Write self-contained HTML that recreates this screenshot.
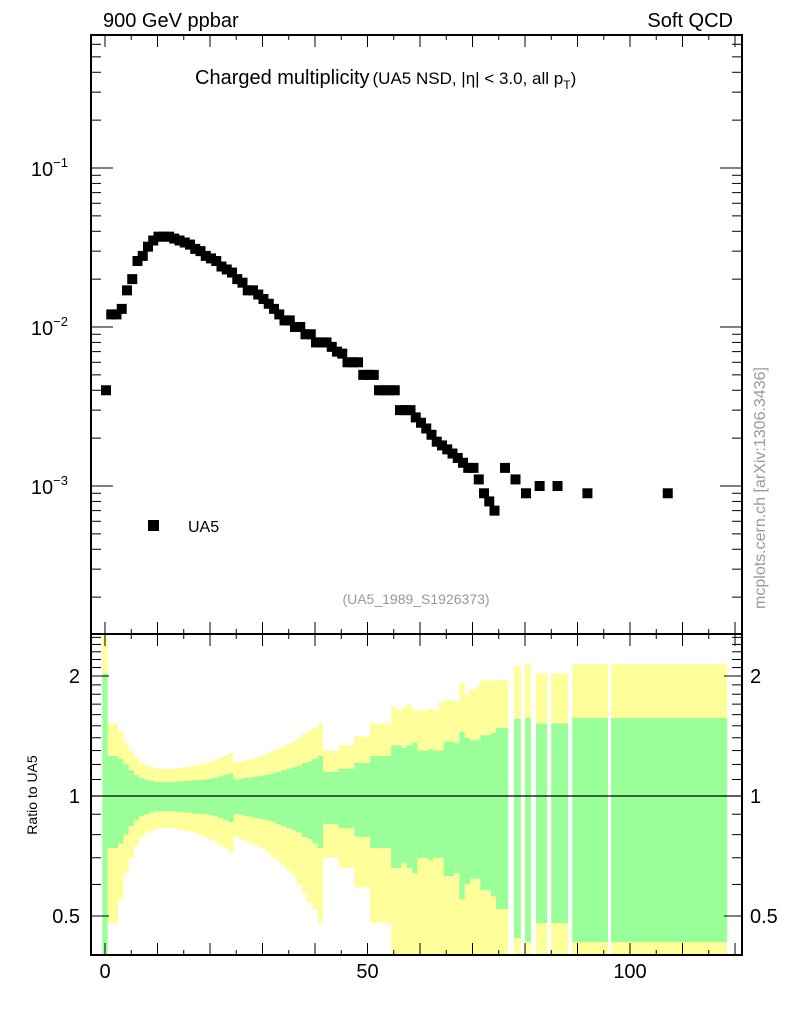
<!DOCTYPE html>
<html><head><meta charset="utf-8"><style>
html,body{margin:0;padding:0;background:#fff;}
svg{display:block;font-family:"Liberation Sans",sans-serif;}
</style></head><body>
<svg id="chart" width="786" height="1024" viewBox="0 0 786 1024" xmlns="http://www.w3.org/2000/svg">
<g id="ratio-bands"></g>
<g id="axes"></g>
<g id="points"></g>
<text x="103" y="27" font-size="20">900 GeV ppbar</text>
<text x="733" y="27" font-size="20" text-anchor="end">Soft QCD</text>
<text x="195" y="84" font-size="20">Charged multiplicity<tspan font-size="17" dx="3">(UA5 NSD, |η| &lt; 3.0, all p</tspan><tspan font-size="12" dy="5">T</tspan><tspan font-size="17" dy="-5">)</tspan></text>
<rect x="148" y="520" width="11" height="11" fill="#000"/>
<text x="188" y="532" font-size="16">UA5</text>
<text x="416" y="604" font-size="14" fill="#999" text-anchor="middle">(UA5_1989_S1926373)</text>
<text transform="translate(37,795) rotate(-90)" font-size="14" text-anchor="middle">Ratio to UA5</text>
<text transform="translate(765,488) rotate(-90)" font-size="16" fill="#999" text-anchor="middle">mcplots.cern.ch [arXiv:1306.3436]</text>
</svg>
<script>
const dataX = [0,1,2,3,4,5,6,7,8,9,10,11,12,13,14,15,16,17,18,19,20,21,22,23,24,25,26,27,28,29,30,31,32,33,34,35,36,37,38,39,40,41,42,43,44,45,46,47,48,49,50,51,52,53,54,55,56,57,58,59,60,61,62,63,64,65,66,67,68,69,70,71,72,73,74,76,78,80,82.6,86,91.7,107];
const dataY = [0.004,0.012,0.012,0.013,0.017,0.020,0.026,0.028,0.032,0.035,0.037,0.037,0.037,0.036,0.035,0.034,0.033,0.031,0.030,0.028,0.027,0.026,0.024,0.023,0.022,0.020,0.019,0.017,0.017,0.016,0.015,0.014,0.013,0.012,0.011,0.011,0.010,0.010,0.009,0.009,0.008,0.008,0.008,0.0075,0.007,0.0068,0.006,0.006,0.006,0.005,0.005,0.005,0.004,0.004,0.004,0.004,0.003,0.003,0.003,0.0027,0.0025,0.0023,0.0021,0.0019,0.0018,0.0017,0.0016,0.0015,0.0014,0.0013,0.0013,0.0011,0.0009,0.0008,0.0007,0.0013,0.0011,0.0009,0.001,0.001,0.0009,0.0009];
// ratio band bins: low edge, high edge, stat (green) rel err, total (yellow) rel err
const binLo = [-0.5,0.5,1.5,2.5,3.5,4.5,5.5,6.5,7.5,8.5,9.5,10.5,11.5,12.5,13.5,14.5,15.5,16.5,17.5,18.5,19.5,20.5,21.5,22.5,23.5,24.5,25.5,26.5,27.5,28.5,29.5,30.5,31.5,32.5,33.5,34.5,35.5,36.5,37.5,38.5,39.5,40.5,41.5,42.5,43.5,44.5,45.5,46.5,47.5,48.5,49.5,50.5,51.5,52.5,53.5,54.5,55.5,56.5,57.5,58.5,59.5,60.5,61.5,62.5,63.5,64.5,65.5,66.5,67.5,68.5,69.5,70.5,71.5,72.5,73.5,74.5,75.5,77.9,80.0,82.1,85.0,89.0,96.4];
const binHi = [0.5,1.5,2.5,3.5,4.5,5.5,6.5,7.5,8.5,9.5,10.5,11.5,12.5,13.5,14.5,15.5,16.5,17.5,18.5,19.5,20.5,21.5,22.5,23.5,24.5,25.5,26.5,27.5,28.5,29.5,30.5,31.5,32.5,33.5,34.5,35.5,36.5,37.5,38.5,39.5,40.5,41.5,42.5,43.5,44.5,45.5,46.5,47.5,48.5,49.5,50.5,51.5,52.5,53.5,54.5,55.5,56.5,57.5,58.5,59.5,60.5,61.5,62.5,63.5,64.5,65.5,66.5,67.5,68.5,69.5,70.5,71.5,72.5,73.5,74.5,75.5,76.8,79.2,81.1,84.2,88.2,95.8,118.5];
const statErr = [1.03,0.26,0.26,0.24,0.20,0.16,0.13,0.11,0.10,0.09,0.085,0.084,0.084,0.085,0.087,0.09,0.092,0.095,0.098,0.10,0.105,0.11,0.12,0.13,0.14,0.10,0.105,0.11,0.115,0.12,0.125,0.13,0.14,0.15,0.16,0.17,0.18,0.19,0.21,0.22,0.24,0.26,0.15,0.15,0.15,0.17,0.17,0.17,0.21,0.21,0.21,0.26,0.26,0.26,0.26,0.34,0.34,0.32,0.34,0.36,0.30,0.30,0.31,0.30,0.30,0.37,0.37,0.36,0.45,0.40,0.38,0.38,0.42,0.42,0.44,0.48,0.48,0.56,0.57,0.52,0.52,0.57,0.57];
const totErr = [1.6,0.52,0.52,0.45,0.36,0.30,0.25,0.21,0.19,0.18,0.17,0.17,0.17,0.17,0.175,0.18,0.185,0.19,0.20,0.21,0.22,0.23,0.25,0.26,0.28,0.21,0.22,0.23,0.24,0.25,0.26,0.28,0.30,0.31,0.33,0.35,0.37,0.40,0.43,0.46,0.48,0.52,0.30,0.30,0.30,0.34,0.34,0.34,0.41,0.41,0.41,0.52,0.52,0.52,0.52,0.68,0.64,0.66,0.70,0.64,0.64,0.64,0.66,0.64,0.72,0.74,0.74,0.72,0.92,0.80,0.85,0.88,0.95,0.95,0.95,0.95,0.95,1.12,1.15,1.03,1.03,1.14,1.14];
const xTicksMajor = [0,50,100];
const yTopLabels = [-1,-2,-3];
const ratioLabels = [2,1,0.5];

const NS='http://www.w3.org/2000/svg';
const L=91,R=742,T=35,MID=634,B=955;
const xs = x => 105 + 5.25*x;
const ys = v => 486 - 159*(Math.log10(v)+3);
const yr = r => 796 - 120*Math.log2(r);
function mk(tag, attrs, parent){const e=document.createElementNS(NS,tag);for(const k in attrs)e.setAttribute(k,attrs[k]);parent.appendChild(e);return e;}
const bands=document.getElementById('ratio-bands'), axes=document.getElementById('axes'), pts=document.getElementById('points');
const clampY = y => Math.max(MID, Math.min(B, y));
function band(lo,hi,up,dn,color,name){
  const yt=clampY(yr(up)), yb= dn>0 ? clampY(yr(dn)) : B;
  const r=mk('rect',{x:xs(lo),y:yt,width:xs(hi)-xs(lo),height:yb-yt,fill:color},bands);
  
  
}
for(let i=0;i<binLo.length;i++) band(binLo[i],binHi[i],1+totErr[i],1-totErr[i],'#ffff99','total-uncertainty-band');
for(let i=0;i<binLo.length;i++) band(binLo[i],binHi[i],1+statErr[i],1-statErr[i],'#99ff99','stat-uncertainty-band');
const ref=mk('line',{x1:L,x2:R,y1:yr(1),y2:yr(1),stroke:'#000','stroke-width':1.2},axes);


const f1=mk('rect',{x:L,y:T,width:R-L,height:MID-T,fill:'none',stroke:'#000','stroke-width':2},axes);


const f2=mk('rect',{x:L,y:MID,width:R-L,height:B-MID,fill:'none',stroke:'#000','stroke-width':2},axes);


function tick(x1,y1,x2,y2){const t=mk('line',{x1,y1,x2,y2,stroke:'#000','stroke-width':1},axes);}
for(let v=0;v<=120;v+=5){const x=xs(v);const len=(v%10===0)?12:5;
  tick(x,T,x,T+len); tick(x,MID,x,MID-len); tick(x,MID,x,MID+len); tick(x,B,x,B-len);}
for(let d=-4;d<=-1;d++){for(let m=1;m<=9;m++){const v=m*Math.pow(10,d);const y=ys(v);if(y<T||y>MID)continue;const len=m===1?22:10;tick(L,y,L+len,y);tick(R,y,R-len,y);}}
for(let k=4;k<=25;k++){const v=k/10;const y=yr(v);if(y<MID||y>B)continue;const len=(k===5||k===10||k===20)?18:10;tick(L,y,L+len,y);tick(R,y,R-len,y);}
function txt(s,x,y,size,anchor,name){const t=mk('text',{x,y,'font-size':size,'text-anchor':anchor},axes);t.textContent=s;return t;}
xTicksMajor.forEach(v=>txt(String(v),xs(v),978,20,'middle','x-tick-label'));
yTopLabels.forEach(d=>{const t=txt('10',68,ys(Math.pow(10,d))+8,20,'end','y-tick-label');const s=document.createElementNS(NS,'tspan');s.setAttribute('font-size','13');s.setAttribute('dy','-9');s.textContent='−'+(-d);t.appendChild(s);});
ratioLabels.forEach(v=>{const y=yr(v)+7;txt(String(v),80,y,20,'end','ratio-tick-label-left');txt(String(v),750,y,20,'start','ratio-tick-label-right');});
for(let i=0;i<dataX.length;i++){const r=mk('rect',{x:xs(dataX[i])-4,y:ys(dataY[i])-5,width:10,height:10,fill:'#000'},pts);
  
  }
</script>
</body></html>
